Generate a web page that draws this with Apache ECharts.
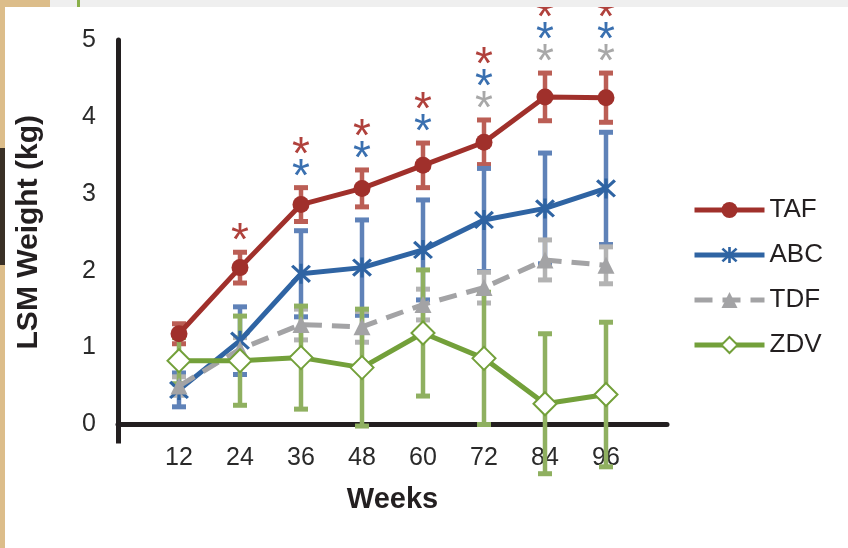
<!DOCTYPE html>
<html>
<head>
<meta charset="utf-8">
<script src="https://cdn.jsdelivr.net/npm/echarts@6/dist/echarts.min.js"></script>
<style>
html,body{margin:0;padding:0;background:#fff;}
#chart{width:848px;height:548px;}
</style>
</head>
<body>
<div id="chart"></div>
<script>
// ---- data ----
const weeks = [12, 24, 36, 48, 60, 72, 84, 96];
const tafMean = [1.18, 2.04, 2.86, 3.07, 3.37, 3.67, 4.26, 4.25];
const tafErr  = [0.13, 0.20, 0.22, 0.24, 0.29, 0.29, 0.31, 0.32];
const abcMean = [0.45, 1.09, 1.96, 2.04, 2.27, 2.66, 2.81, 3.07];
const abcErr  = [0.22, 0.44, 0.56, 0.62, 0.65, 0.67, 0.72, 0.73];
const tdfMean = [0.50, 0.98, 1.30, 1.27, 1.56, 1.78, 2.14, 2.07];
const tdfErr  = [0.12, 0.15, 0.20, 0.20, 0.20, 0.20, 0.26, 0.24];
const zdvMean = [0.83, 0.83, 0.87, 0.74, 1.19, 0.86, 0.27, 0.39];
const zdvErr  = [0.30, 0.58, 0.67, 0.76, 0.82, 0.86, 0.91, 0.94];
// significance flags (asterisks), stacked bottom-up: TDF, ABC, TAF
const sigTDF = [0, 0, 0, 0, 0, 1, 1, 1];
const sigABC = [0, 0, 1, 1, 1, 1, 1, 1];
const sigTAF = [0, 1, 1, 1, 1, 1, 1, 1];
const seriesNames = ['TAF', 'ABC', 'TDF', 'ZDV'];
const yTicks = [0, 1, 2, 3, 4, 5];

// ---- styles ----
const lineColors = ['#a0302b', '#2f64a3', '#a3a3a5', '#73a03a'];
const errColors  = ['#bb5e55', '#5f82b8', '#b3b3b3', '#8fb060'];
const starColors = ['#b0413c', '#3a70b0', '#a8a8a8'];
const FONT = "'Liberation Sans', Arial, sans-serif";
const TXT = '#231f20';

const means = [tafMean, abcMean, tdfMean, zdvMean];
const errs = [tafErr, abcErr, tdfErr, zdvErr];

const errData = [];
means.forEach((m, g) => weeks.forEach((w, i) => errData.push([w, m[i], errs[g][i], g])));

const starData = [];
weeks.forEach((w, i) => {
  const base = tafMean[i] + tafErr[i];
  let k = 0;
  [[sigTDF, 2], [sigABC, 1], [sigTAF, 0]].forEach(([flags, c]) => {
    if (flags[i]) { starData.push([w, base + 0.27 + k * 0.285, c]); k++; }
  });
});

const asteriskPath = 'path://M8.5,0 L11.5,0 L11.5,20 L8.5,20 Z M0.9,3 L3,0.9 L19.1,17 L17,19.1 Z M17,0.9 L19.1,3 L3,19.1 L0.9,17 Z';

function errRender(params, api) {
  const x = api.value(0), m = api.value(1), e = api.value(2), g = api.value(3);
  const top = api.coord([x, m + e]);
  const bot = api.coord([x, m - e]);
  const c = errColors[g];
  const cap = 7;
  return {
    type: 'group',
    children: [
      { type: 'line', shape: { x1: top[0], y1: top[1], x2: bot[0], y2: bot[1] }, style: { stroke: c, lineWidth: 4.5 } },
      { type: 'line', shape: { x1: top[0] - cap, y1: top[1], x2: top[0] + cap, y2: top[1] }, style: { stroke: c, lineWidth: 5 } },
      { type: 'line', shape: { x1: bot[0] - cap, y1: bot[1], x2: bot[0] + cap, y2: bot[1] }, style: { stroke: c, lineWidth: 5 } }
    ]
  };
}

function starRender(params, api) {
  const p = api.coord([api.value(0), api.value(1)]);
  return {
    type: 'text',
    x: p[0], y: p[1] + 11,
    style: { text: '*', fill: starColors[api.value(2)], font: '46px ' + FONT, align: 'center', verticalAlign: 'middle' }
  };
}

function lineSeries(idx, extra) {
  return Object.assign({
    name: seriesNames[idx],
    type: 'line',
    data: weeks.map((w, i) => [w, means[idx][i]]),
    color: lineColors[idx],
    lineStyle: { width: 5, color: lineColors[idx] },
    itemStyle: { color: lineColors[idx] },
    z: 3 + idx,
    clip: false
  }, extra);
}

const chart = echarts.init(document.getElementById('chart'), null, { renderer: 'canvas' });
chart.setOption({
  animation: false,
  backgroundColor: '#fff',
  textStyle: { fontFamily: FONT },
  grid: { left: 118, right: 181, top: 40, bottom: 123.5, containLabel: false },
  legend: {
    orient: 'vertical',
    left: 692, top: 197,
    padding: 0,
    itemWidth: 70, itemHeight: 20, itemGap: 19,
    lineStyle: { width: 5 },
    textStyle: { fontSize: 26, lineHeight: 26, color: TXT, fontFamily: FONT },
    data: seriesNames
  },
  xAxis: {
    type: 'value', min: 0, max: 108, interval: 12,
    name: 'Weeks', nameLocation: 'middle', nameGap: 61,
    nameTextStyle: { fontSize: 29, fontWeight: 'bold', color: TXT, fontFamily: FONT },
    axisLine: { onZero: true, lineStyle: { color: TXT, width: 5 } },
    axisTick: { show: true, customValues: [0], length: 19, inside: false, lineStyle: { color: TXT, width: 5 } },
    axisLabel: { customValues: weeks, fontSize: 25, color: '#2a2a2a', margin: 21, fontFamily: FONT },
    splitLine: { show: false }
  },
  yAxis: {
    type: 'value', min: 0, max: 5, interval: 1,
    name: 'LSM Weight (kg)', nameLocation: 'middle', nameGap: 74,
    nameTextStyle: { fontSize: 30, fontWeight: 'bold', color: TXT, fontFamily: FONT },
    axisLine: { show: true, lineStyle: { color: TXT, width: 5 } },
    axisTick: { show: false },
    axisLabel: { customValues: yTicks, fontSize: 25, color: '#2a2a2a', margin: 22, fontFamily: FONT },
    splitLine: { show: false }
  },
  series: [
    { type: 'custom', name: 'err', data: errData, renderItem: errRender, encode: { x: 0, y: 1 }, z: 2, clip: false, silent: true },
    lineSeries(1, { symbol: asteriskPath, symbolSize: 20, z: 3 }),
    lineSeries(2, { symbol: 'triangle', symbolSize: 17, z: 4, lineStyle: { width: 5, color: lineColors[2], type: [18, 10] } }),
    lineSeries(3, { symbol: 'emptyDiamond', symbolSize: 23, z: 5, itemStyle: { color: lineColors[3], borderWidth: 3.5 } }),
    lineSeries(0, { symbol: 'circle', symbolSize: 17, z: 6 }),
    { type: 'custom', name: 'sig', data: starData, renderItem: starRender, encode: { x: 0, y: 1 }, z: 7, clip: false, silent: true }
  ],
  graphic: [
    { type: 'rect', shape: { x: 0, y: 0, width: 5, height: 548 }, style: { fill: '#dcbd8a' }, z: 100 },
    { type: 'rect', shape: { x: 0, y: 148, width: 5, height: 117 }, style: { fill: '#3a3026' }, z: 101 },
    { type: 'rect', shape: { x: 50, y: 0, width: 798, height: 7 }, style: { fill: '#efefef' }, z: 100 },
    { type: 'rect', shape: { x: 0, y: 0, width: 50, height: 7 }, style: { fill: '#dcbd8a' }, z: 100 },
    { type: 'rect', shape: { x: 77, y: 0, width: 3, height: 7 }, style: { fill: '#8ab04a' }, z: 101 }
  ]
});
</script>
</body>
</html>
